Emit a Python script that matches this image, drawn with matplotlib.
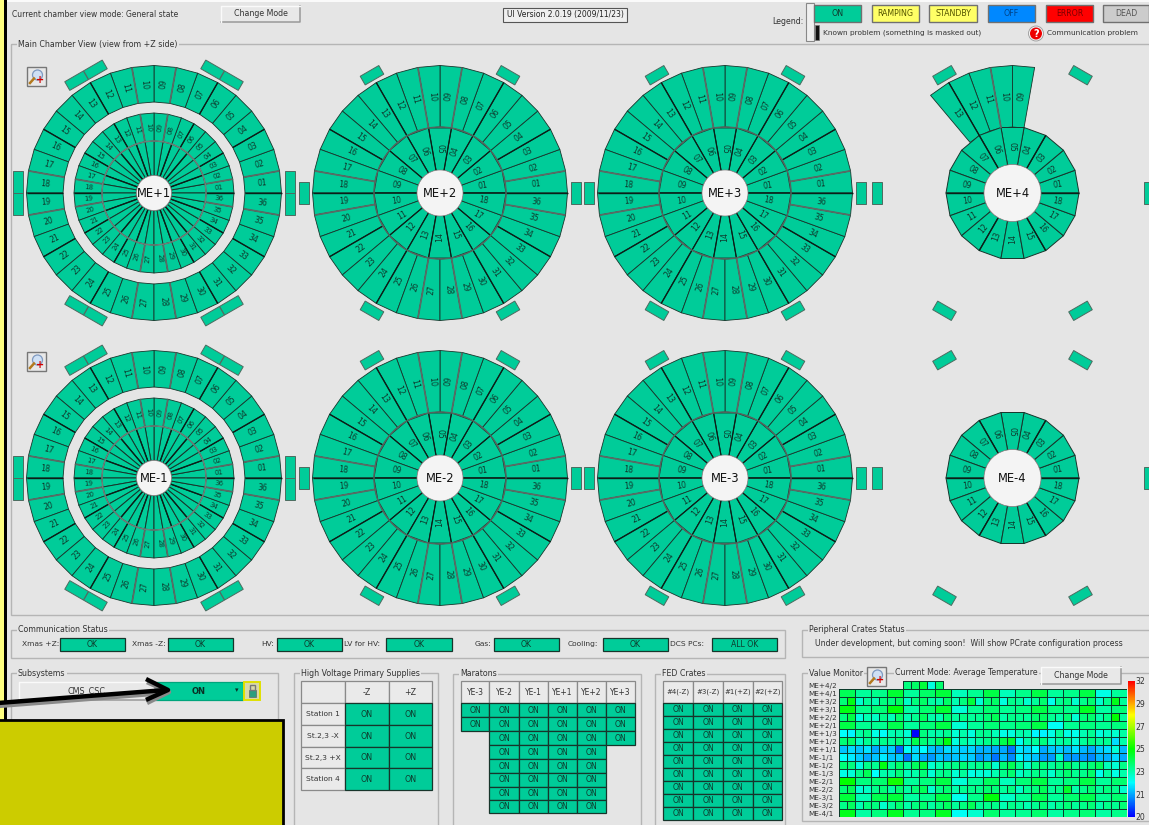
import numpy as np
import matplotlib
matplotlib.use("Agg")
import matplotlib.pyplot as plt
from matplotlib.patches import Polygon, Rectangle, Circle
from matplotlib.colors import LinearSegmentedColormap, FuncNorm
from matplotlib.cm import ScalarMappable

# ---------- data ----------
chamber_numbers_36 = [f"{i:02d}" for i in range(1, 37)]
chamber_numbers_18 = [f"{i:02d}" for i in range(1, 19)]
me4_outer_numbers = ["09", "10", "11", "12", "13"]
station_names = ["ME+1", "ME+2", "ME+3", "ME+4", "ME-1", "ME-2", "ME-3", "ME-4"]
legend_states = ["ON", "RAMPING", "STANDBY", "OFF", "ERROR", "DEAD"]
comm_labels = ["Xmas +Z:", "Xmas -Z:", "HV:", "LV for HV:", "Gas:", "Cooling:", "DCS PCs:"]
comm_values = ["OK", "OK", "OK", "OK", "OK", "OK", "ALL OK"]
hv_columns = ["-Z", "+Z"]
hv_rows = ["Station 1", "St.2,3 -X", "St.2,3 +X", "Station 4"]
maraton_columns = ["YE-3", "YE-2", "YE-1", "YE+1", "YE+2", "YE+3"]
maraton_first_col = [0, 0, 1, 1, 1, 1, 1, 1]
maraton_last_col = [5, 5, 5, 4, 4, 4, 4, 4]
fed_columns = ["#4(-Z)", "#3(-Z)", "#1(+Z)", "#2(+Z)"]
fed_row_count = 9

temp_labels = ["ME+4/2", "ME+4/1", "ME+3/2", "ME+3/1", "ME+2/2", "ME+2/1", "ME+1/3", "ME+1/2", "ME+1/1",
               "ME-1/1", "ME-1/2", "ME-1/3", "ME-2/1", "ME-2/2", "ME-3/1", "ME-3/2", "ME-4/1"]
me_p4_2 = [23.5, 23.8, 24.3, 22.4, 23.7]
me_p4_1 = [24.0, 23.2, 23.4, 24.4, 23.2, 23.8, 24.3, 22.8, 23.3, 24.2, 22.8, 23.4, 24.2, 23.2, 23.4, 24.2, 22.3, 23.2]
me_p3_2 = [23.6, 24.8, 22.6, 23.2, 22.9, 23.5, 23.5, 23.9, 22.7, 23.5, 23.8, 23.1, 23.0, 23.8, 22.9, 23.5, 24.3, 22.5,
           23.6, 23.8, 22.4, 23.4, 23.2, 22.6, 23.2, 23.7, 22.2, 23.3, 23.5, 22.6, 23.4, 23.7, 22.6, 23.3, 24.7, 23.2]
me_p3_1 = [24.8, 23.4, 23.6, 24.9, 23.1, 23.7, 24.4, 22.5, 23.3, 23.7, 23.3, 23.5, 24.2, 23.5, 23.4, 24.6, 23.1, 23.6]
me_p2_2 = [23.5, 24.2, 22.4, 22.9, 22.7, 23.4, 22.8, 23.7, 22.9, 23.3, 23.9, 23.0, 22.9, 23.7, 23.1, 23.4, 23.2, 23.3,
           23.6, 24.0, 23.0, 23.4, 23.3, 23.2, 23.7, 23.9, 23.3, 23.0, 23.6, 22.5, 23.6, 23.7, 23.0, 23.4, 25.0, 23.2]
me_p2_1 = [24.2, 23.3, 23.3, 24.1, 23.2, 23.6, 24.2, 22.5, 23.2, 23.6, 23.4, 23.6, 24.2, 22.1, 23.3, 23.5, 23.3, 23.5]
me_p1_3 = [22.0, 21.9, 23.1, 23.4, 22.3, 22.1, 22.9, 23.0, 22.5, 20.0, 23.5, 23.0, 23.0, 23.3, 22.5, 23.0, 22.4, 23.3,
           23.3, 22.8, 22.3, 22.4, 23.0, 22.9, 21.9, 21.9, 22.3, 23.2, 22.3, 22.2, 22.9, 23.3, 22.4, 22.7, 22.6, 23.1]
me_p1_2 = [23.6, 23.8, 22.7, 23.3, 23.0, 23.4, 23.2, 23.6, 22.9, 24.1, 23.6, 23.2, 23.9, 24.8, 22.4, 23.1, 22.7, 23.1,
           23.4, 23.4, 24.1, 24.4, 22.2, 23.0, 23.2, 23.5, 22.6, 23.1, 23.2, 22.5, 23.2, 23.5, 23.2, 23.3, 21.6, 23.0]
me_p1_1 = [21.3, 21.6, 21.3, 21.7, 21.0, 21.4, 21.4, 20.6, 22.1, 21.6, 22.0, 21.3, 21.1, 21.6, 21.5, 21.4, 21.5, 21.1,
           21.1, 21.0, 21.0, 20.7, 21.7, 21.5, 22.0, 21.0, 21.3, 21.4, 21.2, 21.7, 21.2, 21.0, 21.4, 21.6, 22.5, 21.2]
me_m1_1 = [22.0, 21.8, 21.4, 21.0, 21.3, 21.8, 21.3, 21.4, 20.7, 21.6, 21.0, 20.9, 21.3, 21.1, 21.3, 21.5, 21.4, 20.9,
           21.1, 20.7, 21.2, 20.8, 21.9, 21.5, 21.3, 20.9, 20.9, 22.7, 20.9, 20.9, 20.9, 20.8, 21.2, 21.1, 21.6, 21.0]
me_m1_2 = [23.6, 23.5, 22.4, 23.4, 23.3, 24.8, 23.2, 23.8, 23.2, 23.9, 24.3, 22.6, 23.0, 23.4, 23.4, 23.6, 23.2, 23.4,
           23.6, 22.6, 23.6, 24.0, 23.3, 22.6, 23.4, 23.6, 23.2, 23.5, 23.9, 23.3, 23.3, 23.6, 23.9, 22.8, 22.5, 23.4]
me_m1_3 = [22.3, 22.5, 23.4, 24.0, 22.0, 23.0, 23.0, 23.6, 22.8, 23.0, 23.6, 22.5, 23.3, 23.4, 22.5, 23.2, 22.3, 22.5,
           22.5, 22.9, 23.4, 23.7, 22.7, 23.0, 23.4, 23.3, 22.6, 23.3, 23.7, 23.3, 23.4, 23.8, 22.2, 23.1, 22.3, 23.0]
me_m2_1 = [25.0, 23.5, 23.7, 25.2, 23.2, 23.5, 24.2, 22.5, 23.2, 23.9, 22.8, 23.6, 24.2, 23.2, 23.5, 24.2, 23.2, 23.7]
me_m2_2 = [23.6, 24.0, 22.5, 22.7, 23.4, 23.6, 23.1, 23.7, 23.1, 23.6, 24.0, 22.6, 23.4, 23.7, 23.0, 23.3, 23.4, 23.4,
           23.7, 23.6, 23.2, 23.5, 22.7, 23.3, 23.5, 24.0, 23.2, 23.4, 24.5, 23.0, 23.4, 23.7, 23.2, 23.5, 23.4, 22.6]
me_m3_1 = [24.3, 22.9, 24.1, 24.3, 23.1, 23.4, 24.2, 22.2, 23.4, 24.9, 22.7, 23.2, 24.1, 23.2, 23.7, 24.1, 23.3, 23.7]
me_m3_2 = [23.4, 23.9, 22.9, 23.5, 23.5, 22.6, 23.2, 23.7, 23.0, 23.5, 23.7, 23.1, 23.5, 23.9, 23.2, 23.5, 24.0, 23.3,
           23.4, 23.4, 22.9, 23.4, 23.2, 22.9, 23.3, 23.6, 23.0, 23.3, 23.6, 23.2, 23.4, 23.6, 23.0, 23.4, 23.3, 23.6]
me_m4_1 = [24.7, 23.1, 23.5, 24.6, 23.3, 23.5, 24.6, 22.1, 22.6, 23.7, 23.2, 23.3, 23.7, 23.1, 23.4, 23.6, 23.1, 23.4]
temp_rows = [me_p4_1, me_p3_2, me_p3_1, me_p2_2, me_p2_1, me_p1_3, me_p1_2, me_p1_1,
             me_m1_1, me_m1_2, me_m1_3, me_m2_1, me_m2_2, me_m3_1, me_m3_2, me_m4_1]
colorbar_ticks = [20, 21, 23, 25, 27, 29, 32]

# ---------- styles ----------
BG = "#E5E5E5"; ON = "#00CC99"; TXT = "#333333"; EDGE = "#17352B"; FRAME = "#B5B5B5"
plt.rcParams["font.family"] = "DejaVu Sans"
W, H = 1149, 825
fig = plt.figure(figsize=(W / 100, H / 100), dpi=100, facecolor=BG)
ax = fig.add_axes([0, 0, 1, 1])
ax.set_xlim(0, W); ax.set_ylim(H, 0); ax.axis("off")

def label(x, y, s, size=5.7, ha="left", va="center", color=TXT, rot=0, weight="normal", z=6):
    ax.text(x, y, s, fontsize=size, ha=ha, va=va, color=color, rotation=rot, fontweight=weight,
            rotation_mode="anchor", zorder=z)

def box(x0, y0, x1, y1, fc=ON, ec=EDGE, lw=0.9, text=None, size=5.7, color="#0E3B2D", z=3, weight="normal"):
    ax.add_patch(Rectangle((x0, y0), x1 - x0, y1 - y0, fc=fc, ec=ec, lw=lw, zorder=z))
    if text:
        label((x0 + x1) / 2, (y0 + y1) / 2 + 0.3, text, size=size, ha="center", color=color, z=z + 1, weight=weight)

def button(x0, y0, x1, y1, text, size=5.7):
    ax.add_patch(Rectangle((x0, y0), x1 - x0, y1 - y0, fc="#E8E8E8", ec="none", zorder=3))
    ax.plot([x0, x1, x1], [y1, y1, y0], color="#999999", lw=1.1, zorder=4)
    ax.plot([x0, x0, x1], [y1, y0, y0], color="#FAFAFA", lw=1.0, zorder=4)
    label((x0 + x1) / 2, (y0 + y1) / 2, text, size=size, ha="center", z=5)

def frame(x0, y0, x1, y1, title=None, tx=None):
    ax.add_patch(Rectangle((x0, y0), x1 - x0, y1 - y0, fc="none", ec=FRAME, lw=1.0, zorder=1))
    if title:
        t = ax.text(x0 + 7 if tx is None else tx, y0, title, fontsize=5.7, ha="left", va="center", color=TXT, zorder=2)
        t.set_bbox(dict(fc=BG, ec="none", pad=1.0))

def sector(cx, cy, r0, r1, a0, a1, fc=ON, ec=EDGE, lw=0.6):
    a = np.radians([a0, a1, a1, a0])
    r = np.array([r1, r1, r0, r0])
    pts = np.column_stack([cx + r * np.cos(a), cy - r * np.sin(a)])
    ax.add_patch(Polygon(pts, closed=True, fc=fc, ec=ec, lw=lw, zorder=2, joinstyle="round"))

def spoke(cx, cy, r0, r1, ang, color, lw):
    a = np.radians(ang)
    ax.plot([cx + r0 * np.cos(a), cx + r1 * np.cos(a)], [cy - r0 * np.sin(a), cy - r1 * np.sin(a)],
            color=color, lw=lw, zorder=2.5, solid_capstyle="butt")

def radial_label(cx, cy, r, ang, s, size=5.3):
    a = np.radians(ang)
    rot = ang if (ang < 90 or ang > 270) else ang - 180
    ax.text(cx + r * np.cos(a), cy - r * np.sin(a), s, fontsize=size, ha="center", va="center",
            rotation=rot, rotation_mode="anchor", color="#0F3A2D", zorder=5)

def tab(cx, cy, r, ang, tang=0.0, length=21.5, width=10.0):
    a = np.radians(ang)
    ur = np.array([np.cos(a), -np.sin(a)]); ut = np.array([np.sin(a), np.cos(a)])
    c = np.array([cx, cy]) + r * ur + tang * ut
    pts = [c + sr * width / 2 * ur + st * length / 2 * ut for sr, st in [(1, 1), (1, -1), (-1, -1), (-1, 1)]]
    ax.add_patch(Polygon(pts, closed=True, fc=ON, ec="#4D6B60", lw=0.7, zorder=2))

def ring(cx, cy, r0, r1, numbers, rlabel, step=10.0, size=5.3, lw=0.6):
    for i, s in enumerate(numbers):
        a0 = i * step
        sector(cx, cy, r0, r1, a0, a0 + step, lw=lw)
        radial_label(cx, cy, rlabel, (a0 + step / 2) % 360, s, size)

def thick_spokes(cx, cy, r0, r1):
    for g in [30, 60, 120, 150, 210, 240, 300, 330]:
        spoke(cx, cy, r0, r1, g, "#0A1F18", 1.0)
    for g in [10, 80, 100, 170, 190, 260, 280, 350]:
        spoke(cx, cy, r0, r1, g, "#5A6B65", 1.3)
    for g in [0, 180]:
        spoke(cx, cy, r0, r1, g, "#0A1F18", 1.0)

def hub(cx, cy, r, name):
    ax.add_patch(Circle((cx, cy), r, fc="#F4F4F4", ec="#888888", lw=0.5, zorder=4))
    label(cx, cy + 0.3, name, size=8.3, ha="center", color="#111111", z=6)

# ---------- window ----------
ax.plot([0, W], [1, 1], color="#FAFAFA", lw=1.5, zorder=1)
ax.add_patch(Rectangle((-1, -1), 5, H + 2, fc="#FFFF80", ec="none", zorder=1))
ax.add_patch(Rectangle((4, -1), 3, H + 2, fc="#000000", ec="none", zorder=1))

label(12, 14.5, "Current chamber view mode: General state", size=5.5)
button(221, 6, 300, 22, "Change Mode", 5.7)
ax.add_patch(Rectangle((503, 8), 124, 14, fc="#EFEFEF", ec="#555555", lw=0.8, zorder=3))
label(565, 15, "UI Version 2.0.19 (2009/11/23)", size=5.5, ha="center", color="#222222")

# legend
label(772, 21.5, "Legend:", size=5.7)
ax.add_patch(Rectangle((806, 3), 8, 38, fc="#EFEFEF", ec="#888888", lw=0.8, zorder=3))
ax.add_patch(Rectangle((815, 25), 4, 15, fc="#111111", ec="#777777", lw=0.5, zorder=3))
legend_x = [(814, 861), (872, 919), (929, 977), (988, 1035), (1046, 1093), (1103, 1149)]
legend_fc = [ON, "#FFFF66", "#FFFF66", "#0088FF", "#FF0000", "#CCCCCC"]
legend_tc = ["#0E3B2D", "#555500", "#555500", "#00448A", "#7A0000", "#555555"]
for (x0, x1), s, fc, tc in zip(legend_x, legend_states, legend_fc, legend_tc):
    box(x0, 5, x1, 22, fc=fc, ec="#707070", lw=1.0, text=s, color=tc, size=5.7)
label(823, 32.5, "Known problem (something is masked out)", size=5.3)
ax.add_patch(Circle((1036, 33.5), 7.5, fc="#F0F0F0", ec="#999999", lw=0.6, zorder=3))
ax.add_patch(Circle((1036, 33.5), 6, fc="#EE0000", ec="none", zorder=4))
label(1036, 33.7, "?", size=7, ha="center", color="white", weight="bold", z=5)
label(1047, 32.5, "Communication problem", size=5.3)

# main frame
frame(11, 44, 1160, 615, "Main Chamber View (view from +Z side)")

# chamber wheels
centers_x = [154, 440, 725, 1012.5]
centers_y = [193, 478]
inner_dark = [40, 60, 80, 100, 120, 140, 220, 240, 260, 280, 300, 320]
for row, cy in enumerate(centers_y):
    for col, cx in enumerate(centers_x):
        name = station_names[row * 4 + col]
        tabs = [0, 60, 120, 180, 240, 300]
        if col == 0:
            for g in tabs:
                tab(cx, cy, 136, g, -10.9); tab(cx, cy, 136, g, 10.9)
            ring(cx, cy, 91, 127.5, chamber_numbers_36, 109, size=5.6)
            thick_spokes(cx, cy, 91, 127.5)
            ring(cx, cy, 52, 80, chamber_numbers_36, 65.5, size=5.0)
            for a0 in np.arange(0, 360, 10.0):
                sector(cx, cy, 17.5, 52, a0, a0 + 10, lw=0.7)
            thick_spokes(cx, cy, 52, 80)
            for g in [20, 50, 70, 110, 130, 160, 200, 230, 250, 290, 310, 340]:
                spoke(cx, cy, 17.5, 52, g, "#0A1F18", 1.0)
            ax.add_patch(Circle((cx, cy), 52, fc="none", ec="#6F7F79", lw=1.1, zorder=3))
            hub(cx, cy, 17.5, name)
        elif col < 3:
            for g in tabs:
                tab(cx, cy, 136, g)
            ring(cx, cy, 66, 127.5, chamber_numbers_36, 97, size=5.6)
            thick_spokes(cx, cy, 66, 127.5)
            ring(cx, cy, 23, 66, chamber_numbers_18, 44, step=20, size=5.6)
            for g in inner_dark:
                spoke(cx, cy, 23, 66, g, "#0A1F18", 0.9)
            spoke(cx, cy, 23, 66, 0, "#0A1F18", 1.1); spoke(cx, cy, 23, 66, 180, "#0A1F18", 1.1)
            ax.add_patch(Circle((cx, cy), 66, fc="none", ec="#55655F", lw=1.0, zorder=3))
            hub(cx, cy, 23, name)
        else:
            for g in tabs:
                tab(cx, cy, 136, g)
            if row == 0:
                for k, s in enumerate(me4_outer_numbers):
                    a0 = 80 + k * 10
                    sector(cx, cy, 66, 127.5, a0, a0 + 10)
                    radial_label(cx, cy, 97, a0 + 5, s, 5.6)
                spoke(cx, cy, 66, 127.5, 100, "#5A6B65", 1.3)
                spoke(cx, cy, 66, 127.5, 120, "#0A1F18", 1.0)
            ring(cx, cy, 28.5, 66.5, chamber_numbers_18, 46, step=20, size=5.6, lw=0.7)
            for g in [0, 180, 60, 120, 240, 300]:
                spoke(cx, cy, 28.5, 66.5, g, "#0A1F18", 1.0)
            hub(cx, cy, 28.5, name)

# zoom icons
for x0, y0 in [(27, 67), (27, 352), (867, 667)]:
    ax.add_patch(Rectangle((x0, y0), 19, 19, fc="#E8E8E8", ec="#777777", lw=1.0, zorder=5))
    ax.add_patch(Circle((x0 + 10.5, y0 + 8), 5, fc="#CFE0F5", ec="#7E99C0", lw=0.9, zorder=6))
    ax.plot([x0 + 7, x0 + 3], [y0 + 11.5, y0 + 16], color="#B37A1E", lw=1.8, zorder=6)
    label(x0 + 13.5, y0 + 13.2, "+", size=7, ha="center", color="#D00000", weight="bold", z=7)

# communication status
frame(11, 630, 785, 658, "Communication Status")
comm_label_x = [22, 132, 261, 344, 475, 568, 670]
comm_box_x = [(60, 125), (168, 233), (277, 342), (386, 452), (494, 559), (603, 668), (712, 777)]
for lx, (x0, x1), s, v in zip(comm_label_x, comm_box_x, comm_labels, comm_values):
    label(lx, 644, s, size=5.4)
    box(x0, 638, x1, 651, text=v, size=5.6)

# peripheral
frame(802, 630, 1160, 657, "Peripheral Crates Status")
label(815, 644, "Under development, but coming soon!  Will show PCrate configuration process", size=5.6)

# subsystems
frame(11, 673, 278, 830, "Subsystems")
button(19, 682, 155, 700, "CMS_CSC", 5.8)
box(155, 682, 243, 700, text="ON", size=6, color="#0A2F24", ec="#00A57C", weight="bold")
label(237, 690, "\u25be", size=5, ha="center", color="#0A2F24")
ax.add_patch(Rectangle((244, 682), 16, 18, fc="#D9D9A8", ec="#E0E000", lw=1.4, zorder=3))
ax.add_patch(Rectangle((249, 690), 7, 7, fc="#2E9E7E", ec="#666666", lw=0.5, zorder=4))
ax.add_patch(Rectangle((250, 685), 5, 5, fc="none", ec="#777777", lw=1.0, zorder=4))

# high voltage
frame(294, 673, 438, 830, "High Voltage Primary Supplies")
hv_x = [301, 345, 388.5, 432]
hv_y = [681, 703, 725, 746.5, 768, 790]
HDR = "#EAEAEA"
box(hv_x[0], hv_y[0], hv_x[1], hv_y[1], fc=HDR, ec="#8A8A8A")
for j, s in enumerate(hv_columns):
    box(hv_x[j + 1], hv_y[0], hv_x[j + 2], hv_y[1], fc=HDR, ec="#8A8A8A", text=s, color=TXT)
for i, s in enumerate(hv_rows):
    box(hv_x[0], hv_y[i + 1], hv_x[1], hv_y[i + 2], fc=HDR, ec="#8A8A8A", text=s, color=TXT, size=5.4)
    for j in range(2):
        box(hv_x[j + 1], hv_y[i + 1], hv_x[j + 2], hv_y[i + 2], text="ON", size=5.7)

# maratons
frame(453, 674, 641, 830, "Maratons")
mar_x = [460.7, 489.3, 519, 548, 576.7, 605.7, 635]
mar_y = [702.7, 717.3, 731, 745, 759, 772.7, 786.7, 800, 813.3]
for j, s in enumerate(maraton_columns):
    box(mar_x[j], 681, mar_x[j + 1], 702.7, fc=HDR, ec="#8A8A8A", text=s, color=TXT, size=5.5)
for i, (first, last) in enumerate(zip(maraton_first_col, maraton_last_col)):
    for j in range(first, last + 1):
        box(mar_x[j], mar_y[i], mar_x[j + 1], mar_y[i + 1], text="ON", size=5.6)

# FED
frame(655, 674, 785, 830, "FED Crates")
fed_x = [663.3, 693.3, 723, 752.7, 782.3]
for j, s in enumerate(fed_columns):
    box(fed_x[j], 681, fed_x[j + 1], 702.7, fc=HDR, ec="#8A8A8A", text=s, color=TXT, size=5.0)
for i in range(fed_row_count):
    for j in range(4):
        y0 = 702.7 + i * 13.05
        box(fed_x[j], y0, fed_x[j + 1], y0 + 13.05, text="ON", size=5.6)

# value monitor
frame(802, 673, 1160, 821, "Value Monitor")
t = ax.text(895, 672.5, "Current Mode: Average Temperature", fontsize=5.7, ha="left", va="center", color=TXT, zorder=2)
t.set_bbox(dict(fc=BG, ec="none", pad=1.0))
button(1041, 667, 1121, 684, "Change Mode", 5.7)

hm_x0, hm_x1, hm_y0, hm_y1 = 839.3, 1126.7, 681.3, 816.7
hax = fig.add_axes([hm_x0 / W, 1 - hm_y1 / H, (hm_x1 - hm_x0) / W, (hm_y1 - hm_y0) / H])
cmap = LinearSegmentedColormap.from_list("temp", ["#0000FF", "#00FFFF", "#00FF00", "#FFFF00", "#FF0000"])
tick_pos = np.linspace(0, 1, len(colorbar_ticks))
norm = FuncNorm((lambda v: np.interp(v, colorbar_ticks, tick_pos),
                 lambda p: np.interp(p, tick_pos, colorbar_ticks)), vmin=20, vmax=32)
hax.pcolormesh(np.arange(8, 14), [-1, 0], [me_p4_2], cmap=cmap, norm=norm, edgecolors="#0B3B2B", linewidth=0.45)
for r, vals in enumerate(temp_rows):
    step = 36 // len(vals)
    hax.pcolormesh(np.arange(0, 37, step), [r, r + 1], [vals], cmap=cmap, norm=norm,
                   edgecolors="#0B3B2B", linewidth=0.45)
hax.set_xlim(0, 36); hax.set_ylim(16, -1); hax.axis("off"); hax.patch.set_alpha(0)

for i, s in enumerate(temp_labels):
    label(808, hm_y0 + (i + 0.5) * (hm_y1 - hm_y0) / 17 + 1.0, s, size=5.2)

cax = fig.add_axes([1127.5 / W, 1 - 816.7 / H, 7 / W, (816.7 - 681) / H])
cb = fig.colorbar(ScalarMappable(norm=norm, cmap=cmap), cax=cax, ticks=colorbar_ticks)
cb.outline.set_visible(False)
cb.ax.tick_params(length=0, pad=0.5, labelsize=5.6, labelcolor=TXT)
cb.ax.minorticks_off()
cb.set_ticklabels([str(v) for v in colorbar_ticks])

# annotation overlay
ax.plot([-2, 165], [706, 693], color="#8A8A8A", lw=3.2, zorder=8, solid_capstyle="butt")
ax.plot([149, 169, 149], [683, 692, 702], color="#8A8A8A", lw=3.2, zorder=8)
ax.plot([-2, 166], [703, 690], color="#000000", lw=3.2, zorder=9, solid_capstyle="butt")
ax.plot([148, 168, 148], [680, 690, 699], color="#000000", lw=3.2, zorder=9)
ax.add_patch(Rectangle((-3, 720), 286, 110, fc="#CCCC00", ec="#000000", lw=2.0, zorder=10))

fig.savefig("out.png", dpi=100, facecolor=BG)
